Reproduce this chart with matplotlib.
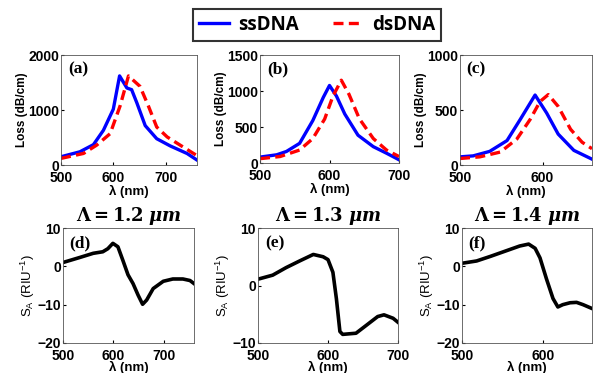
import numpy as np
import matplotlib
matplotlib.use('Agg')
import matplotlib.pyplot as plt
from matplotlib.lines import Line2D

plt.rcParams['font.family'] = ['Liberation Sans', 'DejaVu Sans']
plt.rcParams['mathtext.fontset'] = 'dejavuserif'

# (a) period 1.2 um
a_ss_x = [500, 536, 562, 581, 600, 612, 626, 635, 645, 661, 683, 709, 741, 760]
a_ss_y = [150, 240, 370, 630, 1015, 1620, 1400, 1370, 1130, 716, 478, 346, 209, 90]
a_ds_x = [500, 543, 568, 594, 613, 629, 651, 667, 683, 703, 728, 760]
a_ds_y = [120, 210, 360, 570, 1075, 1620, 1430, 1075, 690, 510, 360, 170]

# (b) period 1.3 um
b_ss_x = [500, 524, 538, 557, 576, 591, 600, 610, 622, 641, 663, 682, 700]
b_ss_y = [82, 114, 160, 273, 590, 910, 1077, 930, 680, 386, 227, 136, 45]
b_ds_x = [500, 529, 557, 576, 593, 605, 617, 628, 643, 663, 682, 700]
b_ds_y = [60, 90, 180, 340, 610, 930, 1150, 955, 614, 340, 180, 90]

# (c) period 1.4 um
c_ss_x = [500, 516, 536, 557, 573, 591, 605, 619, 638, 660]
c_ss_y = [74, 83, 124, 222, 414, 636, 473, 281, 133, 53]
c_ds_x = [500, 524, 549, 569, 585, 597, 607, 619, 634, 648, 660]
c_ds_y = [59, 74, 118, 237, 414, 577, 640, 533, 325, 207, 148]

# sensitivity curves
d_x = [500, 533, 560, 579, 589, 599, 609, 619, 629, 639, 649, 658, 666, 679, 699, 718, 738, 752, 760]
d_y = [1.0, 2.3, 3.4, 3.8, 4.6, 6.0, 5.1, 1.5, -2.2, -4.5, -7.5, -9.9, -8.8, -5.8, -3.9, -3.3, -3.3, -3.7, -4.5]
e_x = [500, 521, 540, 560, 579, 593, 600, 607, 612, 617, 621, 640, 655, 671, 680, 693, 700]
e_y = [1.1, 1.8, 3.1, 4.3, 5.4, 5.0, 4.5, 2.3, -2.3, -8.0, -8.5, -8.3, -6.9, -5.4, -5.1, -5.7, -6.4]
f_x = [500, 518, 535, 555, 571, 582, 590, 596, 604, 612, 618, 624, 633, 641, 649, 660]
f_y = [0.8, 1.4, 2.6, 4.1, 5.3, 5.8, 4.7, 2.2, -3.3, -8.4, -10.6, -10.0, -9.5, -9.4, -10.0, -11.0]

periods = ['1.2', '1.3', '1.4']

W, H = 596, 373
fig = plt.figure(figsize=(W / 100, H / 100), dpi=100)


def rect(l, r, t, b):
    return [l / W, 1 - b / H, (r - l) / W, (b - t) / H]


def style(ax, xlim, xt, ylim, yt, tag):
    ax.set_xlim(xlim)
    ax.set_ylim(ylim)
    ax.set_xticks(xt)
    ax.set_yticks(yt)
    ax.tick_params(direction='in', length=2, labelsize=10, pad=1.5)
    ax.tick_params(axis='x', pad=4)
    for lab in ax.get_xticklabels() + ax.get_yticklabels():
        lab.set_fontweight('bold')
    for s in ax.spines.values():
        s.set_linewidth(0.6)
        s.set_color('#555555')
    ax.text(0.05, 0.94, tag, transform=ax.transAxes, ha='left', va='top',
            fontsize=12.5, fontweight='bold', family='Liberation Serif')


dash = (0, (3, 1.6))
top = [
    (rect(61, 197, 55, 165), (500, 760), [500, 600, 700], (0, 2000), [0, 1000, 2000], '(a)',
     a_ss_x, a_ss_y, a_ds_x, a_ds_y),
    (rect(260, 399, 55, 163), (500, 700), [500, 600, 700], (0, 1500), [0, 500, 1000, 1500], '(b)',
     b_ss_x, b_ss_y, b_ds_x, b_ds_y),
    (rect(460, 592, 55, 165), (500, 660), [500, 600], (0, 1000), [0, 500, 1000], '(c)',
     c_ss_x, c_ss_y, c_ds_x, c_ds_y),
]
for r, xl, xt, yl, yt, tag, sx, sy, dx, dy in top:
    ax = fig.add_axes(r)
    ax.plot(sx, sy, color='#0000ff', lw=2.4)
    ax.plot(dx, dy, color='#ff0000', lw=2.4, ls=dash)
    style(ax, xl, xt, yl, yt, tag)
    ax.set_xlabel('λ (nm)', fontsize=9.5, fontweight='bold', labelpad=0)
    ax.set_ylabel('Loss (dB/cm)', fontsize=8.5, fontweight='bold', labelpad=0)

bottom = [
    (rect(63, 194, 228, 343), (500, 760), [500, 600, 700], (-20, 10), [-20, -10, 0, 10], '(d)', d_x, d_y),
    (rect(258, 398, 228, 343), (500, 700), [500, 600, 700], (-10, 10), [-10, 0, 10], '(e)', e_x, e_y),
    (rect(462, 592, 228, 343), (500, 660), [500, 600], (-20, 10), [-20, -10, 0, 10], '(f)', f_x, f_y),
]
for i, (r, xl, xt, yl, yt, tag, x, y) in enumerate(bottom):
    ax = fig.add_axes(r)
    ax.plot(x, y, color='black', lw=2.6)
    style(ax, xl, xt, yl, yt, tag)
    ax.set_xlabel('λ (nm)', fontsize=9.5, fontweight='bold', labelpad=-1)
    ax.set_ylabel(r'S$_\mathregular{A}$ (RIU$^\mathregular{-1}$)', fontsize=9.5, labelpad=0)
    ax.set_title(r'$\mathbf{\Lambda = %s}\ \mathbfit{\mu m}$' % periods[i], fontsize=13, pad=5)

handles = [Line2D([], [], color='#0000ff', lw=2.4),
           Line2D([], [], color='#ff0000', lw=2.4, ls=dash)]
leg = fig.legend(handles, ['ssDNA', 'dsDNA'], loc='center', bbox_to_anchor=(317 / W, 1 - 25 / H),
                 ncol=2, frameon=True, fancybox=False, handlelength=1.6, columnspacing=1.8,
                 prop={'family': 'Open Sans', 'weight': 'bold', 'size': 13.5},
                 borderpad=0.3, handletextpad=0.5)
leg.get_frame().set_edgecolor('black')
leg.get_frame().set_linewidth(1.5)

fig.savefig('out.png', dpi=100)
